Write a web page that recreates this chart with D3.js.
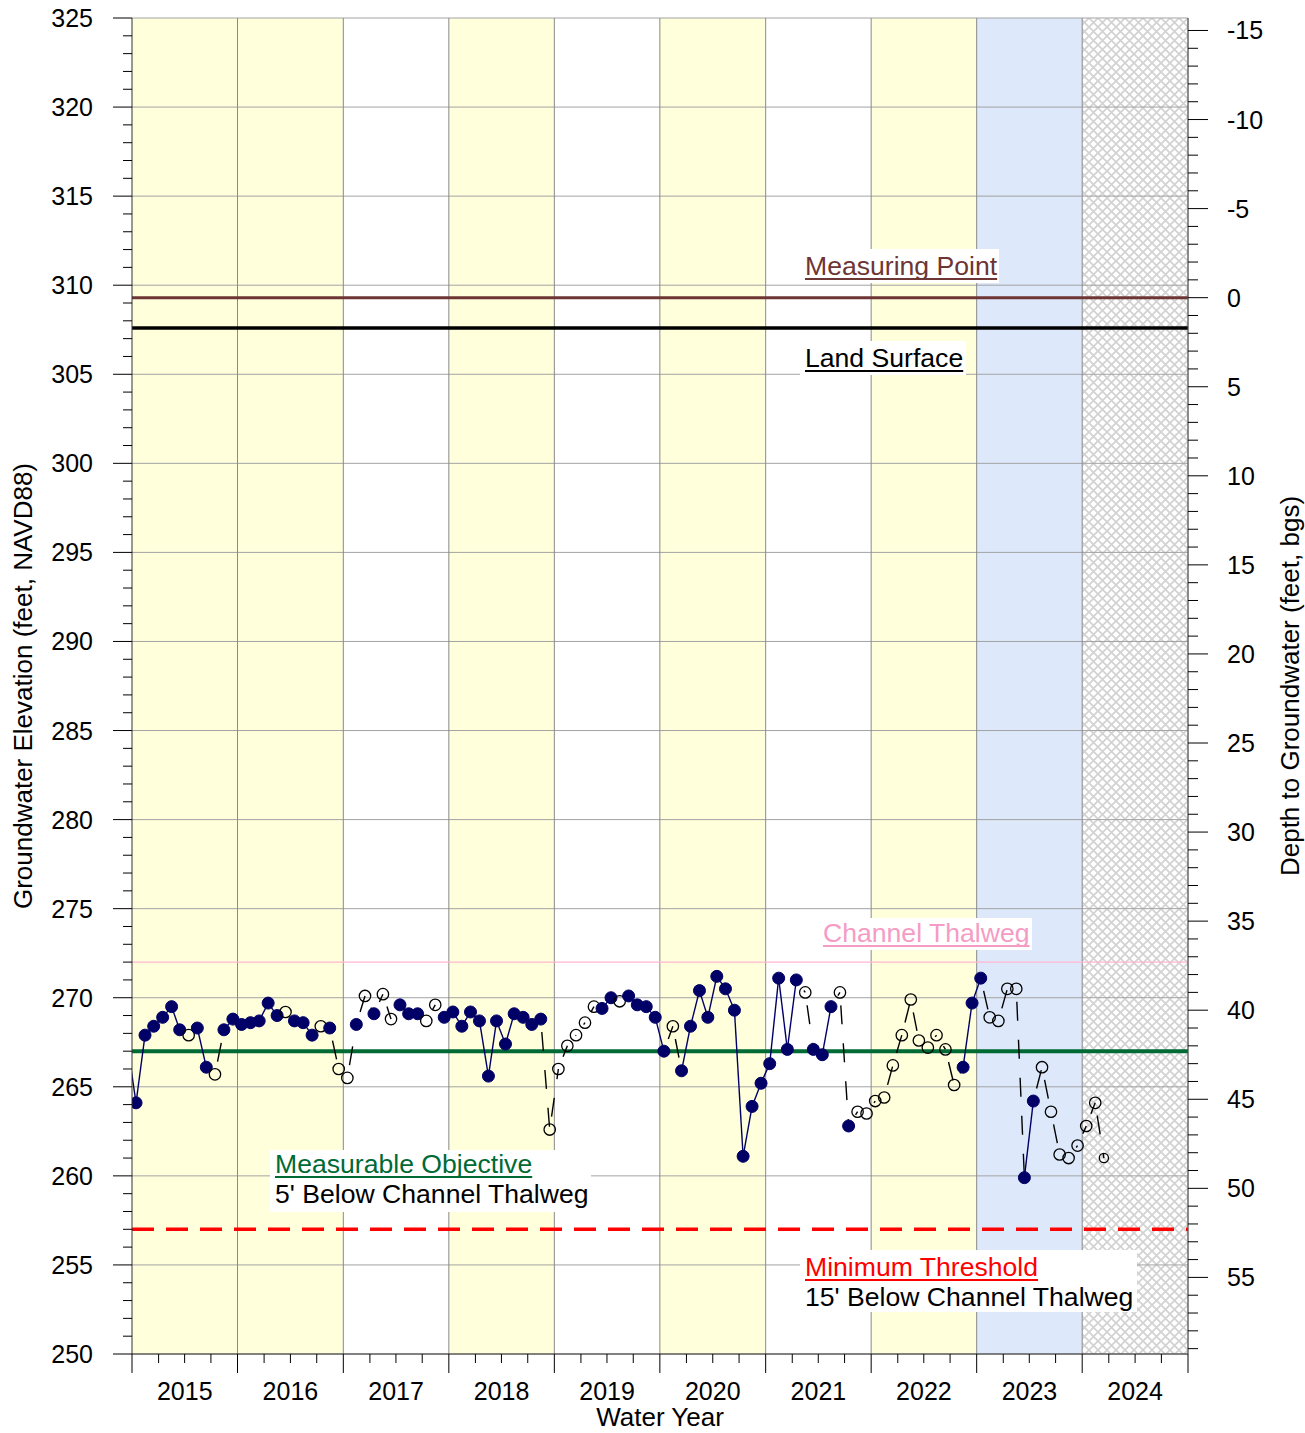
<!DOCTYPE html>
<html><head><meta charset="utf-8">
<script src="https://cdn.jsdelivr.net/npm/d3@7"></script>
<style>body{margin:0;background:#fff} svg{display:block} text{font-family:Arial,"Liberation Sans",sans-serif}</style>
</head><body><svg id="c" width="1305" height="1433"></svg>
<script>
// ---------------- DATA ----------------
const sampleMonths = [
 "2014-09","2014-10","2014-11","2014-12",
 "2015-01","2015-02","2015-03","2015-04","2015-05","2015-06","2015-07","2015-08","2015-09","2015-10","2015-11","2015-12",
 "2016-01","2016-02","2016-03","2016-04","2016-05","2016-06","2016-07","2016-08","2016-09","2016-10","2016-11","2016-12",
 "2017-01","2017-02","2017-03","2017-04","2017-05","2017-06","2017-07","2017-08","2017-09","2017-10","2017-11","2017-12",
 "2018-01","2018-02","2018-03","2018-04","2018-05","2018-06","2018-07","2018-08","2018-09","2018-10","2018-11","2018-12",
 "2019-01","2019-02","2019-03","2019-04","2019-05","2019-06","2019-07","2019-08","2019-09","2019-10","2019-11","2019-12",
 "2020-01","2020-02","2020-03","2020-04","2020-05","2020-06","2020-07","2020-08","2020-09","2020-10","2020-11","2020-12",
 "2021-01","2021-02","2021-03","2021-04","2021-05","2021-06","2021-07","2021-08","2021-09","2021-10","2021-11","2021-12",
 "2022-01","2022-02","2022-03","2022-04","2022-05","2022-06","2022-07","2022-08","2022-09","2022-10","2022-11","2022-12",
 "2023-01","2023-02","2023-03","2023-04","2023-05","2023-06","2023-07","2023-08","2023-09","2023-10","2023-11","2023-12"
];
const elevations = [
 267.4,
 264.1,267.9,268.4,268.9,269.5,268.2,267.9,268.3,266.1,265.7,268.2,
 268.8,268.5,268.6,268.7,269.7,269.0,269.2,268.7,268.6,267.9,
 268.4,268.3,266.0,265.5,268.5,270.1,269.1,270.2,268.8,269.6,
 269.1,269.1,268.7,269.6,268.9,269.2,268.4,269.2,268.7,265.6,
 268.7,267.4,269.1,268.9,268.5,268.8,262.6,266.0,267.3,267.9,
 268.6,269.5,269.4,270.0,269.8,270.1,269.6,269.5,268.9,267.0,
 268.4,265.9,268.4,270.4,268.9,271.2,270.5,269.3,261.1,263.9,
 265.2,266.3,271.1,267.1,271.0,270.3,267.1,266.8,269.5,270.3,
 262.8,263.6,263.5,264.2,264.4,266.2,267.9,269.9,267.6,267.2,
 267.9,267.1,265.1,266.1,269.7,271.1,268.9,268.7,270.5,270.5,
 259.9,264.2,266.1,263.6,261.2,261.0,261.7,262.8,264.1,261.0
];
// 1 = measured (filled), 0 = estimated / open symbol
const measured = [
 1,
 1,1,1,1,1,1,0,1,1,0,1,
 1,1,1,1,1,1,0,1,1,1,
 0,1,0,0,1,0,1,0,0,1,
 1,1,0,0,1,1,1,1,1,1,
 1,1,1,1,1,1,0,0,0,0,
 0,0,1,1,0,1,1,1,1,1,
 0,1,1,1,1,1,1,1,1,1,
 1,1,1,1,1,0,1,1,1,0,
 1,0,0,0,0,0,0,0,0,0,
 0,0,0,1,1,1,0,0,0,0,
 1,1,0,0,0,0,0,0,0,0
];
const waterYears = [2015,2016,2017,2018,2019,2020,2021,2022,2023,2024];
const yearShading = ["yellow","yellow","white","yellow","white","yellow","white","yellow","blue","hatch"];
const elevTicks = [250,255,260,265,270,275,280,285,290,295,300,305,310,315,320,325];
const depthTicks = [-15,-10,-5,0,5,10,15,20,25,30,35,40,45,50,55];
const measuringPoint = 309.3;
const landSurface = 307.6;
const channelThalweg = 272.0;
const measurableObjective = 267.0;
const minimumThreshold = 257.0;

// ---------------- LAYOUT ----------------
const L=132, R=1188, T=18, B=1354;
const svg = d3.select("#c");
const x = d3.scaleTime().domain([new Date(2014,9,1), new Date(2024,9,1)]).range([L,R]);
const y = d3.scaleLinear().domain([250,325]).range([B,T]);
const yd = d3.scaleLinear().domain([measuringPoint-250, measuringPoint-325]).range([B,T]);

const defs = svg.append("defs");
const pat = defs.append("pattern").attr("id","hatch").attr("patternUnits","userSpaceOnUse")
  .attr("width",9).attr("height",9);
pat.append("rect").attr("width",9).attr("height",9).attr("fill","#ffffff");
pat.append("path").attr("d","M-1,-1L10,10M10,-1L-1,10").attr("stroke","#d2d2d2").attr("stroke-width",1.7);
defs.append("clipPath").attr("id","plot").append("rect")
  .attr("x",L).attr("y",T).attr("width",R-L).attr("height",B-T);

const shadeFill = {yellow:"#ffffdc", white:"#ffffff", blue:"#dde8fb", hatch:"url(#hatch)"};

// Background bands
const gb = svg.append("g");
waterYears.forEach((wy,i)=>{
  const x0 = x(new Date(wy-1,9,1)), x1 = x(new Date(wy,9,1));
  gb.append("rect").attr("x",x0).attr("y",T).attr("width",x1-x0).attr("height",B-T)
    .attr("fill",shadeFill[yearShading[i]]);
});

// Grid
const gg = svg.append("g");
elevTicks.forEach(v=>{
  gg.append("line").attr("x1",L).attr("x2",R).attr("y1",y(v)).attr("y2",y(v))
    .attr("stroke","#a3a3a3").attr("stroke-width",1);
});
waterYears.forEach(wy=>{
  const xx = x(new Date(wy,9,1));
  gg.append("line").attr("x1",xx).attr("x2",xx).attr("y1",T).attr("y2",B)
    .attr("stroke","#8a8a8a").attr("stroke-width",1);
});

// Label boxes (white) cover grid
const boxes = [
  [800,249,199,34],
  [800,341,166,34],
  [818,918,214,32],
  [270,1150,321,62],
  [800,1250,337,62]
];
boxes.forEach(b=>svg.append("rect").attr("x",b[0]).attr("y",b[1]).attr("width",b[2]).attr("height",b[3]).attr("fill","#fff"));

// Reference lines
const gr = svg.append("g");
function hline(v,col,w,dash){
  const l = gr.append("line").attr("x1",L).attr("x2",R).attr("y1",y(v)).attr("y2",y(v))
    .attr("stroke",col).attr("stroke-width",w);
  if(dash) l.attr("stroke-dasharray",dash);
}
hline(channelThalweg,"#ffb6cf",1.2);
hline(measurableObjective,"#006a35",4);
hline(minimumThreshold,"#ff0000",3.5,"22,12");
hline(measuringPoint,"#6e3535",3);
hline(landSurface,"#000000",3.5);

// Labels
function label(txt,xx,yy,col,underline){
  const t = svg.append("text").attr("x",xx).attr("y",yy).attr("fill",col)
    .attr("font-size",26.6).text(txt);
  if(underline){
    const w = t.node().getComputedTextLength();
    svg.append("line").attr("x1",xx).attr("x2",xx+w).attr("y1",yy+4).attr("y2",yy+4)
      .attr("stroke",col).attr("stroke-width",1.8);
  }
}
label("Measuring Point",805,275,"#6e3535",true);
label("Land Surface",805,367,"#000",true);
label("Channel Thalweg",823,942,"#f59cc4",true);
label("Measurable Objective",275,1173,"#006a35",true);
label("5' Below Channel Thalweg",275,1203,"#000",false);
label("Minimum Threshold",805,1276,"#ff0000",true);
label("15' Below Channel Thalweg",805,1306,"#000",false);

// Data
const pts = sampleMonths.map((m,i)=>{
  const [yy,mm] = m.split("-").map(Number);
  return {d:new Date(yy,mm-1,15), v:elevations[i], m:measured[i]};
});
const gd = svg.append("g").attr("clip-path","url(#plot)");
for(let k=1;k<pts.length;k++){
  const a=pts[k-1], b=pts[k];
  const l = gd.append("line").attr("x1",x(a.d)).attr("y1",y(a.v)).attr("x2",x(b.d)).attr("y2",y(b.v));
  if(a.m && b.m){
    l.attr("stroke","#000066").attr("stroke-width",1.4);
  } else {
    l.attr("stroke","#000").attr("stroke-width",1.4).attr("stroke-dasharray","19,19").attr("stroke-dashoffset",25);
  }
}
const x0d = x.domain()[0];
gd.selectAll("circle").data(pts.filter(p=>p.d>=x0d)).join("circle")
  .attr("cx",d=>x(d.d)).attr("cy",d=>y(d.v))
  .attr("r",(d,i,arr)=>d.m?6:(i===arr.length-1?4.6:5.7))
  .attr("fill",d=>d.m?"#000066":"none")
  .attr("stroke",d=>d.m?"#000066":"#000")
  .attr("stroke-width",d=>d.m?1:1.3);

// Axes
const ga = svg.append("g").attr("stroke","#000").attr("stroke-width",1);
ga.append("line").attr("x1",L).attr("x2",L).attr("y1",T).attr("y2",B).attr("stroke","#333");
ga.append("line").attr("x1",R).attr("x2",R).attr("y1",T).attr("y2",B).attr("stroke","#555");
ga.append("line").attr("x1",L).attr("x2",R).attr("y1",B).attr("y2",B).attr("stroke","#333");
d3.range(250,326,1).forEach(v=>{
  const maj = elevTicks.includes(v);
  ga.append("line").attr("x1",L-(maj?19:9)).attr("x2",L).attr("y1",y(v)).attr("y2",y(v));
});
d3.range(-15,60,1).forEach(v=>{
  const maj = depthTicks.includes(v);
  ga.append("line").attr("x1",R).attr("x2",R+(maj?20:10)).attr("y1",yd(v)).attr("y2",yd(v));
});
d3.range(0,41,1).forEach(q=>{
  const dd = new Date(2014,9+3*q,1);
  const xx = x(dd);
  const maj = q%4===0;
  ga.append("line").attr("x1",xx).attr("x2",xx).attr("y1",B).attr("y2",B+(maj?19:9));
});

const gt = svg.append("g").attr("font-size",25).attr("fill","#000");
elevTicks.forEach(v=>{
  gt.append("text").attr("x",93).attr("y",y(v)+9).attr("text-anchor","end").text(v);
});
depthTicks.forEach(v=>{
  gt.append("text").attr("x",1227).attr("y",yd(v)+9).attr("text-anchor","start").text(v);
});
waterYears.forEach(wy=>{
  const xm = (x(new Date(wy-1,9,1))+x(new Date(wy,9,1)))/2;
  gt.append("text").attr("x",xm).attr("y",1400).attr("text-anchor","middle").text(wy);
});

// Titles
svg.append("text").attr("x",660).attr("y",1426).attr("text-anchor","middle").attr("font-size",26).text("Water Year");
svg.append("text").attr("transform","translate(32,686) rotate(-90)").attr("text-anchor","middle").attr("font-size",26)
  .text("Groundwater Elevation (feet, NAVD88)");
svg.append("text").attr("transform","translate(1299,686) rotate(-90)").attr("text-anchor","middle").attr("font-size",26)
  .text("Depth to Groundwater (feet, bgs)");
</script></body></html>
